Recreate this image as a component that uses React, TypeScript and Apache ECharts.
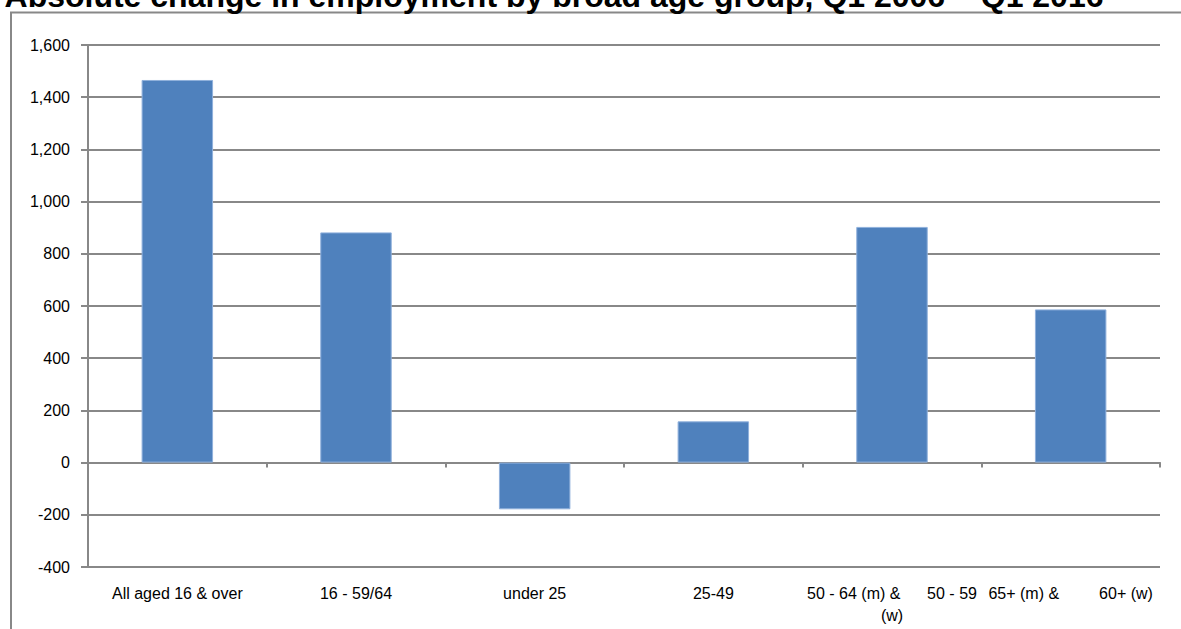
import React, { useEffect, useRef } from "react";
import * as echarts from "echarts";

const TITLE = "Absolute change in employment by broad age group, Q1 2006 – Q1 2016";
const categories = [
  "All aged 16 & over",
  "16 - 59/64",
  "under 25",
  "25-49",
  "50 - 64 (m) & 50 - 59 (w)",
  "65+ (m) & 60+ (w)",
];
const categoryLabels = [
  "All aged 16 & over",
  "16 - 59/64",
  "under 25",
  "25-49",
  "50 - 64 (m) &      50 - 59\n(w)",
  "65+ (m) &         60+ (w)",
];
const values = [1466, 882, -179, 158, 903, 587];
const yMin = -400;
const yMax = 1600;
const yInterval = 200;

export default function App() {
  const ref = useRef<HTMLDivElement>(null);
  useEffect(() => {
    if (!ref.current) return;
    const chart = echarts.init(ref.current, undefined, { renderer: "svg" });
    const gray = "#888888";
    chart.setOption({
      animation: false,
      backgroundColor: "#ffffff",
      textStyle: { fontFamily: "Arial, 'Liberation Sans', sans-serif" },
      graphic: [
        {
          type: "rect",
          shape: { x: 11, y: 12.5, width: 1200, height: 700 },
          style: { fill: "none", stroke: gray, lineWidth: 2 },
          silent: true,
        },
        {
          type: "text",
          x: 554,
          y: 12,
          style: {
            text: TITLE,
            fontFamily: "Arial, 'Liberation Sans', sans-serif",
            fontWeight: "bold",
            fontSize: 32,
            fill: "#000",
            align: "center",
            verticalAlign: "bottom",
          },
          silent: true,
        },
      ],
      grid: { left: 88, right: 21, top: 45, bottom: 62, containLabel: false },
      xAxis: [
        {
          type: "category",
          data: categories,
          position: "bottom",
          axisLine: { onZero: true, lineStyle: { color: gray, width: 2 } },
          axisTick: { show: true, length: 5, inside: false, lineStyle: { color: gray, width: 2 } },
          axisLabel: { show: false },
          splitLine: { show: false },
        },
        {
          type: "category",
          data: categories,
          position: "bottom",
          axisLine: { show: false, onZero: false },
          axisTick: { show: false },
          axisLabel: {
            show: true,
            interval: 0,
            margin: 15,
            color: "#000",
            fontSize: 16,
            lineHeight: 22,
            formatter: (_v: string, i: number) => categoryLabels[i],
          },
        },
      ],
      yAxis: {
        type: "value",
        min: yMin,
        max: yMax,
        interval: yInterval,
        axisLine: { show: true, lineStyle: { color: gray, width: 2 } },
        axisTick: { show: true, length: 7, inside: false, lineStyle: { color: gray, width: 2 } },
        axisLabel: {
          color: "#000",
          fontSize: 16,
          margin: 18,
          formatter: (v: number) => v.toLocaleString("en-US"),
        },
        splitLine: { show: true, lineStyle: { color: gray, width: 2 } },
      },
      series: [
        {
          type: "bar",
          xAxisIndex: 0,
          data: values,
          barWidth: "40%",
          itemStyle: { color: "#4f81bd", borderColor: "#8fb0dc", borderWidth: 1 },
        },
      ],
    });
    return () => chart.dispose();
  }, []);
  return (
    <div
      ref={ref}
      style={{ position: "absolute", left: 0, top: 0, width: 1181, height: 629 }}
    />
  );
}
